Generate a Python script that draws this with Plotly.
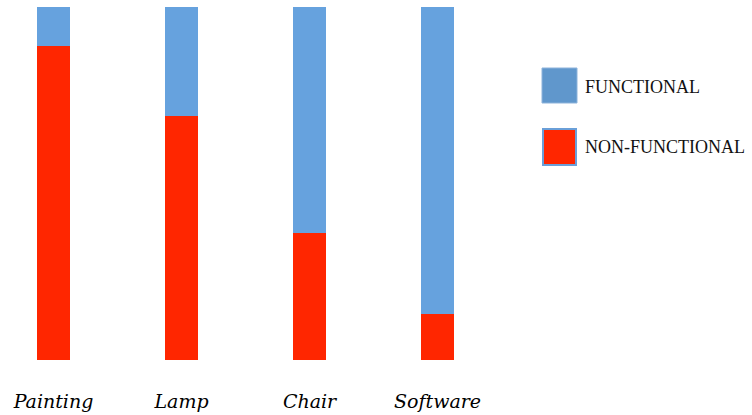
import plotly.graph_objects as go

categories = ["Painting", "Lamp", "Chair", "Software"]
non_functional = [89, 69, 36, 13]
functional = [11, 31, 64, 87]
legend_labels = ["FUNCTIONAL", "NON-FUNCTIONAL"]

BLUE = "#66A2DE"
RED = "#FF2600"
SERIF = "Liberation Serif, Times New Roman, serif"
ITALIC_SERIF = "DejaVu Serif, serif"

fig = go.Figure()
fig.add_trace(go.Bar(x=categories, y=non_functional, name=legend_labels[1],
                     marker=dict(color=RED, line=dict(width=0)), width=0.258))
fig.add_trace(go.Bar(x=categories, y=functional, name=legend_labels[0],
                     marker=dict(color=BLUE, line=dict(width=0)), width=0.258))

fig.update_layout(
    barmode="stack",
    width=752, height=415,
    margin=dict(l=0, r=252, t=7, b=55),
    plot_bgcolor="white", paper_bgcolor="white",
    showlegend=False,
    xaxis=dict(range=[-0.418, 3.488], showgrid=False, zeroline=False, showline=False,
               ticks="", ticklabelstandoff=28,
               tickvals=categories, ticktext=["<i>" + c + "</i>" for c in categories],
               tickfont=dict(family=ITALIC_SERIF, size=19, color="black")),
    yaxis=dict(range=[0, 100], visible=False),
)

# legend drawn as shapes + text
fig.add_shape(type="rect", xref="paper", yref="paper", x0=542/500, x1=577/500,
              y0=(415-55-103)/353, y1=(415-55-68)/353,
              fillcolor="#6097CC", line=dict(color="#8DB3DB", width=1))
fig.add_shape(type="rect", xref="paper", yref="paper", x0=543/500, x1=576/500,
              y0=(415-55-165)/353, y1=(415-55-129)/353,
              fillcolor=RED, line=dict(color="#6A9FD8", width=2))
fig.add_annotation(xref="paper", yref="paper", x=583/500, y=(415-55-87)/353,
                   text=legend_labels[0], showarrow=False, xanchor="left", yanchor="middle",
                   font=dict(family=SERIF, size=18, color="#111"))
fig.add_annotation(xref="paper", yref="paper", x=583/500, y=(415-55-147)/353,
                   text=legend_labels[1], showarrow=False, xanchor="left", yanchor="middle",
                   font=dict(family=SERIF, size=18, color="#111"))

fig.write_html("out.html")
